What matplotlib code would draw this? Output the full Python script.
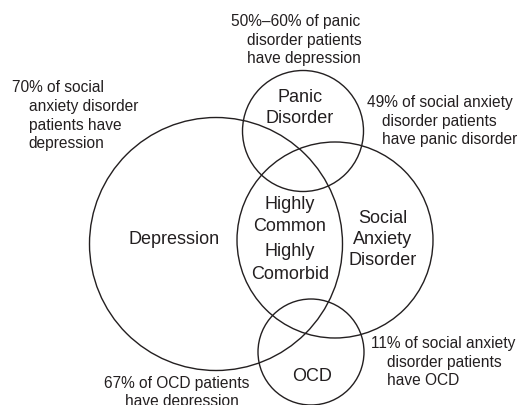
import matplotlib.pyplot as plt
from matplotlib.patches import Circle

plt.rcParams['font.family'] = ['Liberation Sans', 'DejaVu Sans']

# circles: name, centre (px), radius (px)
circle_names = ["Depression", "Panic", "Social", "OCD"]
circle_x = [216, 303, 335, 311]
circle_y = [245, 132, 241, 353]
circle_r = [126.5, 60.5, 98, 53]

# labels inside circles
inner_text = ["Depression", "Panic", "Disorder", "Highly", "Common", "Highly", "Comorbid",
              "Social", "Anxiety", "Disorder", "OCD"]
inner_x = [174, 300, 300, 290, 290, 290, 290, 383, 383, 383, 312]
inner_y = [240, 98, 118.5, 205, 227, 252, 274.5, 219, 240, 260.5, 377]

# annotations (left-aligned lines with hanging indent)
note_text = [
    "50%\u201360% of panic", "disorder patients", "have depression",
    "70% of social", "anxiety disorder", "patients have", "depression",
    "49% of social anxiety", "disorder patients", "have panic disorder",
    "11% of social anxiety", "disorder patients", "have OCD",
    "67% of OCD patients", "have depression",
]
note_x = [231, 247, 247,
          12, 28.5, 28.5, 28.5,
          366.5, 382, 382,
          371, 386.5, 386.5,
          104, 125]
note_y = [21.7, 40, 58.3,
          87.7, 106.7, 125.7, 144,
          102.7, 121.7, 140,
          343.3, 362.3, 381,
          383.3, 401.7]

ink = '#231f20'

fig = plt.figure(figsize=(5.23, 4.06), dpi=100)
ax = fig.add_axes([0, 0, 1, 1])
ax.set_xlim(0, 523)
ax.set_ylim(406, 0)
ax.set_aspect('equal')
ax.axis('off')

for cx, cy, r in zip(circle_x, circle_y, circle_r):
    ax.add_patch(Circle((cx, cy), r, fill=False, edgecolor=ink, linewidth=1.0))

for t, x, y in zip(inner_text, inner_x, inner_y):
    ax.text(x, y, t, ha='center', va='center', fontsize=13, color=ink)

for t, x, y in zip(note_text, note_x, note_y):
    ax.text(x, y, t, ha='left', va='center', fontsize=11.2, color=ink)

fig.savefig("out.png", dpi=100)
